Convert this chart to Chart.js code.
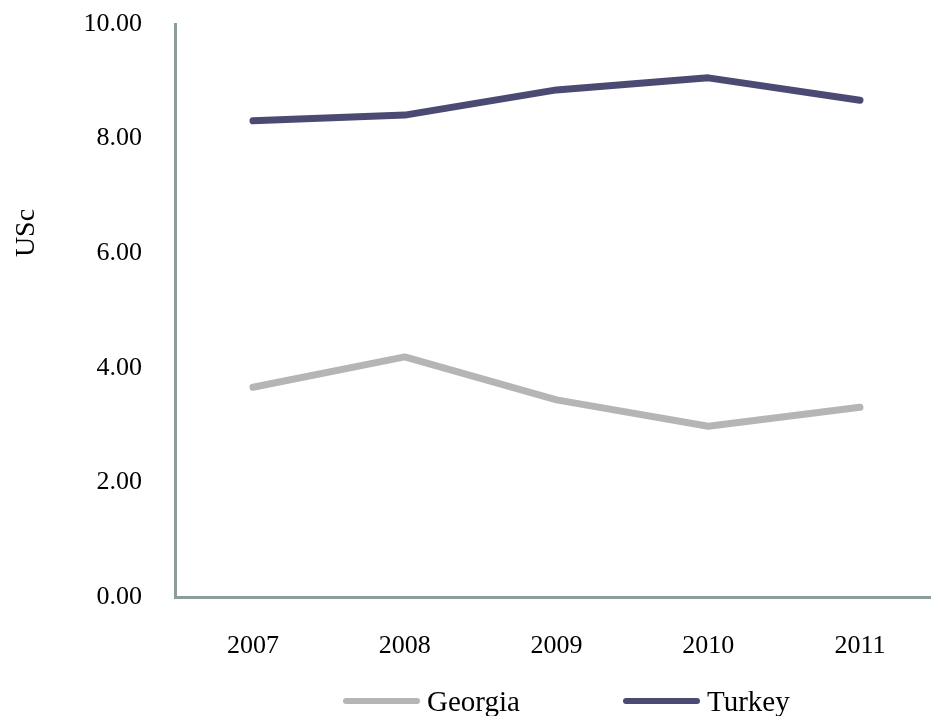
<!DOCTYPE html>
<html>
<head>
<meta charset="utf-8">
<title>Georgia and Turkey, USc, 2007–2011</title>
<script src="https://cdn.jsdelivr.net/npm/chart.js@4/dist/chart.umd.min.js"></script>
<style>
  html, body { margin: 0; padding: 0; background: #ffffff; }
  #wrap { width: 931px; height: 716px; position: relative; }
</style>
</head>
<body>
<div id="wrap"><canvas id="chart" width="931" height="716"></canvas></div>
<script>
// Years on the horizontal axis
const years = [2007, 2008, 2009, 2010, 2011];
// Series values (USc)
const georgia = [3.66, 4.19, 3.44, 2.98, 3.31];
const turkey = [8.31, 8.41, 8.85, 9.06, 8.67];
// Value axis ticks
const yTicks = [0, 2, 4, 6, 8, 10];
const seriesNames = ['Georgia', 'Turkey'];
const axisTitle = 'USc';

const FONT = "'Liberation Serif', 'Times New Roman', serif";
const AXIS_COLOR = '#8c9d9d';
const COLORS = { Georgia: '#b5b5b5', Turkey: '#4b4a73' };

const toPoints = vals => vals.map((v, i) => ({ x: years[i], y: v }));

// Draws the rotated y-axis title and a line-style legend under the axis
const decorations = {
  id: 'decorations',
  afterDraw(chart) {
    const ctx = chart.ctx;
    ctx.save();
    // y-axis title
    ctx.font = `28px ${FONT}`;
    ctx.fillStyle = '#000';
    ctx.textAlign = 'center';
    ctx.textBaseline = 'middle';
    ctx.translate(27, 233);
    ctx.rotate(-Math.PI / 2);
    ctx.fillText(axisTitle, 0, 0);
    ctx.restore();

    // legend
    ctx.save();
    ctx.font = `29px ${FONT}`;
    ctx.textAlign = 'left';
    ctx.textBaseline = 'middle';
    const starts = [343, 623];
    const yMid = 701;
    chart.data.datasets.forEach((ds, i) => {
      const x0 = starts[i];
      ctx.strokeStyle = ds.borderColor;
      ctx.lineWidth = 6;
      ctx.lineCap = 'round';
      ctx.beginPath();
      ctx.moveTo(x0 + 3, yMid);
      ctx.lineTo(x0 + 74, yMid);
      ctx.stroke();
      ctx.fillStyle = '#000';
      ctx.fillText(ds.label, x0 + 84, yMid + 2);
    });
    ctx.restore();
  }
};

const lineStyle = color => ({
  borderColor: color,
  backgroundColor: color,
  borderWidth: 7,
  borderCapStyle: 'round',
  borderJoinStyle: 'round',
  pointRadius: 0,
  tension: 0,
  fill: false
});

new Chart(document.getElementById('chart'), {
  type: 'line',
  data: {
    datasets: [
      Object.assign({ label: seriesNames[0], data: toPoints(georgia) }, lineStyle(COLORS.Georgia)),
      Object.assign({ label: seriesNames[1], data: toPoints(turkey) }, lineStyle(COLORS.Turkey))
    ]
  },
  options: {
    responsive: false,
    animation: false,
    layout: { padding: { top: 24, right: 0, bottom: 0, left: 0 } },
    plugins: {
      legend: { display: false },
      tooltip: { enabled: false }
    },
    scales: {
      x: {
        type: 'linear',
        min: 2006.486,
        max: 2011.468,
        grid: { display: false, drawTicks: false },
        border: { display: true, color: AXIS_COLOR, width: 3 },
        afterBuildTicks: s => { s.ticks = years.map(v => ({ value: v })); },
        afterFit: s => { s.height = 119; s.paddingLeft = 0; s.paddingRight = 0; },
        ticks: {
          padding: 34,
          color: '#000',
          font: { family: FONT, size: 26 },
          callback: v => String(v),
          maxRotation: 0,
          autoSkip: false
        }
      },
      y: {
        min: 0,
        max: 10,
        grid: { display: false, drawTicks: false },
        border: { display: true, color: AXIS_COLOR, width: 3 },
        afterBuildTicks: s => { s.ticks = yTicks.map(v => ({ value: v })); },
        afterFit: s => { s.width = 175; s.paddingTop = 0; s.paddingBottom = 0; },
        ticks: {
          padding: 33,
          color: '#000',
          font: { family: FONT, size: 26 },
          callback: v => Number(v).toFixed(2)
        }
      }
    }
  },
  plugins: [decorations]
});
</script>
</body>
</html>
